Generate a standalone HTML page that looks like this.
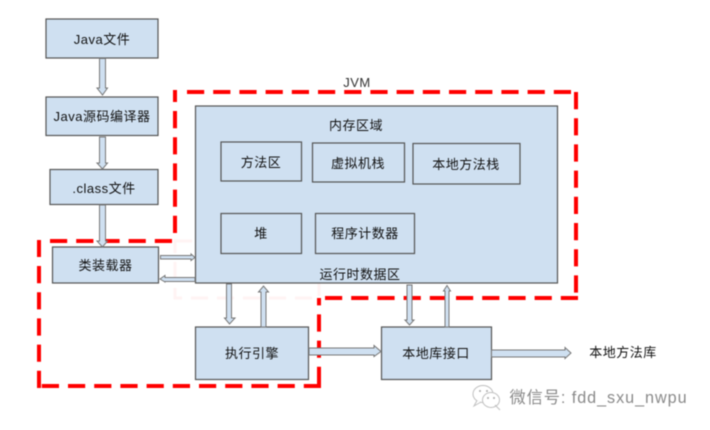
<!DOCTYPE html>
<html><head><meta charset="utf-8"><style>
html,body{margin:0;padding:0;background:#fff;width:710px;height:430px;overflow:hidden}
svg{display:block;filter:blur(.55px)}
text{font-family:"Liberation Sans","Noto Sans CJK SC",sans-serif;font-size:13px;fill:#111;text-anchor:middle;letter-spacing:.5px}
.b{fill:#cfe0f1;stroke:#555;stroke-width:1.2}
.i{fill:none;stroke:#555;stroke-width:1.2}
.a{fill:#cfe0f1;stroke:#777;stroke-width:1}
.r{fill:none;stroke:#f00;stroke-width:4;stroke-dasharray:17.2 9}
</style></head><body>
<svg width="710" height="430" viewBox="0 0 710 430" xmlns="http://www.w3.org/2000/svg">
<rect width="710" height="430" fill="#fff"/>
<path d="M175 241H319V298H175Z" fill="none" stroke="#fff3f3" stroke-width="3" stroke-dasharray="17 9"/>
<path class="r" d="M175 233V90"/>
<path class="r" d="M187 92H574"/>
<path class="r" d="M576 92V298"/>
<path class="r" d="M578 298H320"/>
<path class="r" d="M319 384V298"/>
<path class="r" d="M321 386H40"/>
<path class="r" d="M39 388V240"/>
<path class="r" d="M172 241H50"/>
<rect class="b" x="46" y="19" width="112" height="39"/>
<rect class="b" x="46" y="97" width="112" height="38.500"/>
<rect class="b" x="50" y="169.500" width="108" height="35"/>
<rect class="b" x="52.500" y="247" width="106" height="36"/>
<rect class="b" x="195.500" y="106" width="362" height="177"/>
<rect class="i" x="221" y="142" width="80.500" height="39"/>
<rect class="i" x="312.500" y="143" width="92" height="39"/>
<rect class="i" x="413" y="143.500" width="107" height="40.500"/>
<rect class="i" x="221" y="213.500" width="80.500" height="40"/>
<rect class="i" x="315.500" y="213.500" width="99" height="40"/>
<rect class="b" x="195.500" y="327" width="113" height="52.500"/>
<rect class="b" x="381.500" y="327" width="110" height="52.500"/>
<polygon class="a" points="99.500,58.500 105.500,58.500 105.500,88 107.500,88 102.500,95 97,88 99.500,88"/>
<polygon class="a" points="99.500,137 105.500,137 105.500,163 107.500,163 102.500,169 97,163 99.500,163"/>
<polygon class="a" points="99.500,205 105.500,205 105.500,241 107.500,241 102.500,247 97,241 99.500,241"/>
<polygon class="a" points="160.500,255.500 191,255.500 191,254 195,257.500 191,260.500 191,259 160.500,259"/>
<polygon class="a" points="195,277.500 165,277.500 165,275.500 160,279 165,282 165,281.500 195,281.500"/>
<polygon class="a" points="226.500,284 231.500,284 231.500,318 235,318 229.500,324 224.500,318 226.500,318"/>
<polygon class="a" points="261,327 266,327 266,292 268.500,292 263.500,286 258.500,292 261,292"/>
<polygon class="a" points="309,348 374,348 374,345.500 381,351.500 374,356.500 374,355 309,355"/>
<polygon class="a" points="491.500,350 565,350 565,347.500 571,353 565,358.500 565,357 491.500,357"/>
<polygon class="a" points="407,285 412,285 412,320 414,320 409.500,325 405,320 407,320"/>
<polygon class="a" points="445,327 449,327 449,291 450.500,291 447,285.500 443.500,291 445,291"/>
<text x="102" y="44">Java文件</text>
<text x="102" y="121">Java源码编译器</text>
<text x="104" y="193">.class文件</text>
<text x="105.500" y="270">类装载器</text>
<text x="356" y="130">内存区域</text>
<text x="357" y="87" letter-spacing="0" style="fill:#333">JVM</text>
<text x="261" y="167">方法区</text>
<text x="358" y="168">虚拟机栈</text>
<text x="466" y="169">本地方法栈</text>
<text x="261" y="238">堆</text>
<text x="365" y="238">程序计数器</text>
<text x="360" y="279">运行时数据区</text>
<text x="252" y="358">执行引擎</text>
<text x="436" y="358">本地库接口</text>
<text x="623" y="357">本地方法库</text>
<g fill="#fff" stroke="#c0c0c0" stroke-width="1">
<ellipse cx="483" cy="394" rx="10" ry="8.500"/>
<path d="M477 400.500L474 406L481 402"/>
<ellipse cx="491" cy="400" rx="8.500" ry="7.500"/>
<path d="M496 406L500 410L495 405"/>
</g>
<circle cx="480" cy="391" r="1" fill="#aaa"/><circle cx="487" cy="391" r="1" fill="#aaa"/>
<circle cx="488" cy="398" r="1" fill="#aaa"/><circle cx="494" cy="398" r="1" fill="#aaa"/>
<text x="598.500" y="403" style="font-size:16.200px;fill:#8a8a8a;letter-spacing:.95px">微信号: fdd_sxu_nwpu</text>
</svg>
</body></html>
